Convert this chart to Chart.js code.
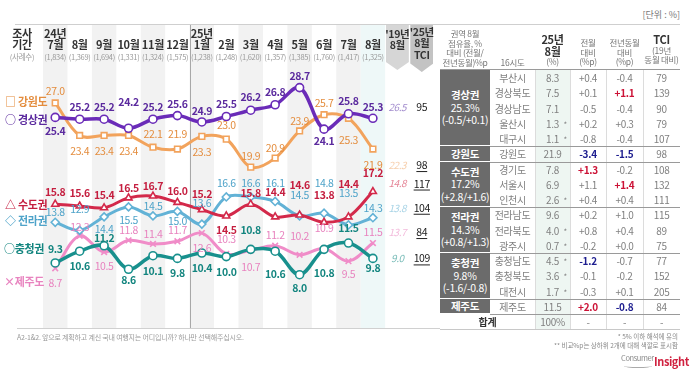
<!DOCTYPE html>
<html><head><meta charset="utf-8">
<script src="https://cdn.jsdelivr.net/npm/chart.js@4.4.1/dist/chart.umd.min.js"></script>
<style>
html,body{margin:0;padding:0;background:#fff;width:698px;height:378px;overflow:hidden;font-family:"Noto Sans CJK KR","Noto Sans",sans-serif;}
#wrap{position:relative;width:698px;height:378px;}
canvas{position:absolute;left:0;top:0;}
.a{position:absolute;white-space:nowrap;line-height:1;}
.c{transform:translateX(-50%);text-align:center;}
.mon{font-size:11px;font-weight:bold;color:#333;letter-spacing:-0.3px;}
.smp{font-size:7.5px;color:#9a9a9a;letter-spacing:-0.3px;}
.leg{font-size:11px;font-weight:bold;letter-spacing:-0.3px;}
.cell{position:absolute;display:flex;align-items:center;justify-content:center;font-size:10px;color:#808080;letter-spacing:-0.3px;box-sizing:border-box;}
.hd{position:absolute;text-align:center;font-size:8.5px;color:#777;line-height:9.5px;letter-spacing:-0.3px;}
.grp{position:absolute;background:#6b6b6b;color:#fff;text-align:center;display:flex;flex-direction:column;align-items:center;justify-content:center;font-size:10.5px;line-height:12.5px;letter-spacing:-0.3px;box-sizing:border-box;}
.ln{position:absolute;}
.rib{position:absolute;clip-path:polygon(0 0,100% 0,100% 82%,50% 100%,0 82%);}
</style></head>
<body><div id="wrap"><canvas id="c" width="440" height="378"></canvas><div id="ov"></div></div>
<script>
// ---------- data ----------
const months   = ['7월','8월','9월','10월','11월','12월','1월','2월','3월','4월','5월','6월','7월','8월'];
const years    = ['24년','','','','','','25년','','','','','','',''];
const samples  = ['(1,834)','(1,369)','(1,694)','(1,331)','(1,324)','(1,575)','(1,238)','(1,248)','(1,620)','(1,357)','(1,385)','(1,760)','(1,417)','(1,325)'];

const seriesNames = ['경상권','강원도','수도권','전라권','충청권','제주도'];
const gyeongsang = [25.4,25.2,25.2,24.2,25.2,25.6,24.9,25.5,26.2,26.8,28.7,24.1,25.8,25.3];
const gangwon    = [27.0,23.4,23.4,23.4,22.1,21.9,23.3,23.0,19.9,20.9,23.9,25.7,25.3,21.9];
const sudo       = [15.8,15.6,15.4,16.5,16.7,16.0,15.2,14.5,15.8,14.4,14.6,13.8,14.4,17.2];
const jeolla     = [13.8,12.9,14.4,15.5,14.5,15.0,13.6,16.6,16.6,16.1,14.5,14.8,13.5,14.3];
const chungcheong= [9.3,10.6,11.2,8.6,10.1,9.8,10.4,10.0,10.8,10.6,8.0,10.8,11.5,9.8];
const jeju       = [8.7,12.3,10.5,11.8,11.4,11.7,12.6,10.3,10.7,11.2,10.2,10.9,9.5,11.5];
const aug2019    = ['26.5','22.3','14.8','13.8','9.0','13.7'];
const tci2025    = ['95','98','117','104','109','84'];

// right-hand table
const groupNames  = ['경상권','강원도','수도권','전라권','충청권','제주도'];
const groupShares = ['25.3%','','17.2%','14.3%','9.8%',''];
const groupDiffs  = ['(-0.5/+0.1)','','(+2.8/+1.6)','(+0.8/+1.3)','(-1.6/-0.8)',''];
const groupSizes  = [5,1,3,3,3,1];
const provinces = ['부산시','경상북도','경상남도','울산시','대구시','강원도','경기도','서울시','인천시','전라남도','전라북도','광주시','충청남도','충청북도','대전시','제주도'];
const shareAug  = ['8.3','7.5','7.1','1.3','1.1','21.9','7.8','6.9','2.6','9.6','4.0','0.7','4.5','3.6','1.7','11.5'];
const lowBase   = [0,0,0,1,1,0,0,0,1,0,1,1,1,1,1,0];
const momDiff   = ['+0.4','+0.1','-0.5','+0.2','-0.8','-3.4','+1.3','+1.1','+0.4','+0.2','+0.8','-0.2','-1.2','-0.1','-0.3','+2.0'];
const yoyDiff   = ['-0.4','+1.1','-0.4','+0.3','-0.4','-1.5','-0.2','+1.4','+0.4','+1.0','+0.4','+0.0','-0.7','-0.2','+0.1','-0.8'];
const tciRow    = ['79','139','90','79','107','98','108','132','111','115','89','75','77','152','205','84'];

// ---------- styles ----------
const styles = [
  {color:'#6a2bb8', text:'#5b2a9e', ref:'#a28ccd', pt:'circle',  w:3.5, bold:true},
  {color:'#f2a35c', text:'#e48d3e', ref:'#f6cfae', pt:'rect',    w:3,   bold:false},
  {color:'#d3294a', text:'#c51f40', ref:'#e58597', pt:'triangle',w:3,   bold:true},
  {color:'#62b2d6', text:'#4ea3c9', ref:'#a9d4e6', pt:'rectRot', w:3,   bold:false},
  {color:'#18908d', text:'#13857f', ref:'#7bbdb9', pt:'circle',  w:3.5, bold:true},
  {color:'#f08cc8', text:'#e883bf', ref:'#f3bcdc', pt:'crossRot',w:3,   bold:false}
];
// label offsets (px, vertical) per point
const labelDy = [
  [14,-12,-12,-26,-12,-12,-11,-12,-13,-13,-12,12,-13,-11],
  [-12,16,16,16,-13,-15,16,-14,-11,-10,-10,-12,22,16],
  [-12,-13,-13,-10,-10,-11,-16,14,-11,-25,-30,-27,-33,-19],
  [-10,-21,12,13,-10,10,-21,-14,-14,-18,-21,-30,-32,-10],
  [-14,15,-8,11,15,15,15,15,-19,23,13,24,-15,10],
  [15,-9,14,-10,-10,-11,15,-15,17,-11,-19,-20,13,-11]
];
// vertical offset of the '19 / TCI side columns from each series' last point
const sideDy = [-11,16,-8,-10,0,-11];

const seriesData = [gyeongsang,gangwon,sudo,jeolla,chungcheong,jeju];

const stripes = {
  id:'stripes',
  beforeDatasetsDraw(chart){
    const {ctx, chartArea, scales:{x}} = chart;
    const top = 25, bottom = chartArea.bottom;
    ctx.save();
    months.forEach((m,i)=>{
      if(i%2===0 || i===months.length-1){
        const l = x.getPixelForValue(i-0.5), r = x.getPixelForValue(i+0.5);
        ctx.fillStyle = i===months.length-1 ? '#eef8f8' : '#f2f2f2';
        ctx.fillRect(l, top, r-l, bottom-top);
      }
    });
    const d = Math.round(x.getPixelForValue(5.5))+0.5;
    ctx.strokeStyle='#a8a8a8'; ctx.lineWidth=1;
    ctx.beginPath(); ctx.moveTo(d, top); ctx.lineTo(d, bottom); ctx.stroke();
    ctx.strokeStyle='#d0d0d0';
    ctx.beginPath(); ctx.moveTo(17, bottom+0.5); ctx.lineTo(chart.width, bottom+0.5); ctx.stroke();
    ctx.restore();
  }
};
const labels = {
  id:'labels',
  afterDatasetsDraw(chart){
    const {ctx, scales:{x}} = chart;
    ctx.save();
    ctx.textAlign='center'; ctx.textBaseline='middle';
    chart.data.datasets.forEach((ds,si)=>{
      const meta = chart.getDatasetMeta(si);
      const st = styles[si];
      ctx.font = (st.bold?'bold ':'')+'10.5px "Noto Sans CJK KR"';
      ctx.letterSpacing = '-0.4px';
      ctx.fillStyle = st.text;
      let lastY = 0;
      meta.data.forEach((p,j)=>{
        const y = p.y + labelDy[si][j];
        ctx.fillText(ds.data[j].y.toFixed(1), p.x, y);
        lastY = p.y;
      });
      const sy = lastY + sideDy[si];
      ctx.font = 'italic 10px "Noto Sans CJK KR"';
      ctx.fillStyle = st.ref;
      ctx.fillText(aug2019[si], x.getPixelForValue(14), sy);
      ctx.font = '10.5px "Noto Sans CJK KR"';
      ctx.fillStyle = '#222';
      const tx = x.getPixelForValue(15);
      ctx.fillText(tci2025[si], tx, sy);
      if(si!==0){
        const w = ctx.measureText(tci2025[si]).width;
        ctx.fillRect(tx-w/2, sy+6, w, 1);
      }
    });
    ctx.restore();
  }
};

const chart = new Chart(document.getElementById('c').getContext('2d'), {
  type:'line',
  data:{datasets: seriesData.map((vals,si)=>({
    label: seriesNames[si],
    data: vals.map((v,i)=>({x:i,y:v})),
    borderColor: styles[si].color,
    borderWidth: styles[si].w,
    pointStyle: styles[si].pt,
    pointRadius: 4,
    pointBorderWidth: 1.6,
    pointBackgroundColor:'#fff',
    pointBorderColor: styles[si].color,
    tension: 0.35,
    clip: false
  }))},
  options:{
    responsive:false, animation:false, devicePixelRatio:1,
    layout:{padding:{left:43,right:6,top:65,bottom:50}},
    plugins:{legend:{display:false}, tooltip:{enabled:false}},
    scales:{
      x:{type:'linear', min:-0.5, max:15.5, display:false},
      y:{min:2.1, max:31.2, display:false}
    }
  },
  plugins:[stripes, labels]
});

// ---------- overlay HTML ----------
const ov = document.getElementById('ov');
function add(cls, html, css){ const d=document.createElement('div'); d.className=cls; d.innerHTML=html; Object.assign(d.style, css); ov.appendChild(d); return d; }
const xs = chart.scales.x;

// top rule
add('ln','',{left:'15px',top:'24px',width:'665px',height:'1px',background:'#cfcfcf'});
// header
add('a c mon','조사',{left:'22px',top:'28px'});
add('a c mon','기간',{left:'22px',top:'39px'});
add('a c smp','(사례수)',{left:'22px',top:'53px'});
months.forEach((m,i)=>{
  const px = xs.getPixelForValue(i)+'px';
  if(years[i]) add('a c mon', years[i], {left:px, top:'28px'});
  add('a c mon', m, {left:px, top:'39px'});
  add('a c smp', samples[i], {left:px, top:'53px'});
});
// ribbons
const r1 = xs.getPixelForValue(14), r2 = xs.getPixelForValue(15);
add('rib','',{left:(r1-11.5)+'px',top:'25px',width:'23px',height:'45px',background:'#d6d6d6'});
add('rib','',{left:(r2-11.5)+'px',top:'25px',width:'23px',height:'47px',background:'#c3c3c3'});
add('a c mon','\'19년',{left:r1+'px',top:'29px',fontSize:'10.5px'});
add('a c mon','8월',{left:r1+'px',top:'40px',fontSize:'10.5px'});
add('a c mon','\'25년',{left:r2+'px',top:'27px',fontSize:'10.5px'});
add('a c mon','8월',{left:r2+'px',top:'38px',fontSize:'10.5px'});
add('a c mon','TCI',{left:r2+'px',top:'50px',fontSize:'10.5px'});

// legend
const legPos = [121,103,206,222,250,283];
const legSym = ['○ ','□ ','△ ','◇ ','○','×'];
seriesNames.forEach((n,i)=>{
  add('a leg', legSym[i]+n, {left:(i===4||i===5?'4px':'5px'), top:(legPos[i]-7)+'px', color:styles[i].text});
});

// footer
add('a','A2-1&2. 앞으로 계획하고 계신 국내 여행지는 어디입니까? 하나만 선택해주십시오.',{left:'17px',top:'334px',fontSize:'7px',color:'#9a9a9a',letterSpacing:'-0.2px'});
add('a','[단위 : %]',{right:'18px',top:'10px',fontSize:'9px',color:'#777'});
add('a','* 5% 이하 해석에 유의',{right:'20px',top:'333px',fontSize:'6.5px',color:'#888'});
add('a','** 비교%p는 상하위 2개에 대해 색깔로 표시함',{right:'20px',top:'342px',fontSize:'6.5px',color:'#888'});
add('a','Consumer',{left:'621px',top:'354px',fontSize:'7.5px',color:'#8a8a8a',letterSpacing:'-0.4px'});
add('a','Insight',{left:'654px',top:'356px',fontSize:'11px',fontWeight:'bold',color:'#d0213f',letterSpacing:'-0.4px'});
add('ln','',{left:'624px',top:'364px',width:'28px',height:'3px',borderBottom:'1px solid #aaa',borderRadius:'0 0 50% 50%'});

// table
const colX = [440,490,535,570,606,643,680];
const top0 = 70, rh = 15.25, nRows = provinces.length+1;
function hdr(c, html, top){ add('hd', html, {left:colX[c]+'px', width:(colX[c+1]-colX[c])+'px', top:top+'px'}); }
hdr(0,'권역 8월<br>점유율, %<br>대비 (전월/<br>전년동월)%p',29);
hdr(1,'16시도',58);
hdr(2,'<b style="font-size:11px;color:#333;line-height:10.5px">25년<br>8월</b><br>(%)',34);
hdr(3,'전월<br>대비<br>(%p)',38);
hdr(4,'전년동월<br>대비<br>(%p)',38);
hdr(5,'<b style="font-size:11px;color:#333">TCI</b><br>(19년<br>동월 대비)',35);
// green column
add('ln','',{left:colX[2]+'px',top:top0+'px',width:(colX[3]-colX[2])+'px',height:(rh*nRows)+'px',background:'#eef6f2'});
// vertical lines
[2,3,4,5].forEach(c=>add('ln','',{left:colX[c]+'px',top:top0+'px',width:'1px',height:(rh*nRows)+'px',background:'#dcdcdc'}));
// highlights: top2 red / bottom2 blue
function ranks(arr){ const v=arr.map(Number); const s=[...v].sort((a,b)=>b-a); return v.map(x=> x>=s[1]?'hi': x<=s[s.length-2]?'lo':''); }
const momR = ranks(momDiff), yoyR = ranks(yoyDiff);
function colored(txt, r){ return r==='hi'?`<b style="color:#cc1236">${txt}</b>`: r==='lo'?`<b style="color:#1d1d8f">${txt}</b>`:txt; }
provinces.forEach((p,r)=>{
  const t = top0 + r*rh;
  const cell = (c, html)=>add('cell', html, {left:colX[c]+'px', width:(colX[c+1]-colX[c])+'px', top:t+'px', height:rh+'px'});
  cell(1,p);
  cell(2, shareAug[r] + (lowBase[r]?'<span style="position:absolute;right:3px;top:3px;font-size:8px">*</span>':''));
  cell(3, colored(momDiff[r], momR[r]));
  cell(4, colored(yoyDiff[r], yoyR[r]));
  cell(5, tciRow[r]);
});
// total row
const tt = top0 + provinces.length*rh;
add('cell','<b style="color:#333">합계</b>',{left:colX[0]+'px',width:(colX[2]-colX[0])+'px',top:tt+'px',height:rh+'px'});
add('cell','100%',{left:colX[2]+'px',width:(colX[3]-colX[2])+'px',top:tt+'px',height:rh+'px'});
[3,4,5].forEach(c=>add('cell','-',{left:colX[c]+'px',width:(colX[c+1]-colX[c])+'px',top:tt+'px',height:rh+'px'}));
// groups
let rr = 0;
groupNames.forEach((g,i)=>{
  const t = top0 + rr*rh, h = groupSizes[i]*rh;
  let html = `<b>${g}</b>`;
  if(groupShares[i]) html += `<span>${groupShares[i]}</span><span>${groupDiffs[i]}</span>`;
  add('grp', html, {left:colX[0]+'px', width:(colX[1]-colX[0])+'px', top:t+'px', height:h+'px'});
  rr += groupSizes[i];
  const by = top0 + rr*rh;
  add('ln','',{left:colX[0]+'px',top:(by-1)+'px',width:(colX[1]-colX[0])+'px',height:'2px',background:'#fff'});
  add('ln','',{left:colX[1]+'px',top:by+'px',width:(colX[6]-colX[1])+'px',height:'1px',background:'#9a9a9a'});
});
add('ln','',{left:colX[0]+'px',top:(top0-1)+'px',width:(colX[6]-colX[0])+'px',height:'1px',background:'#9a9a9a'});
add('ln','',{left:colX[0]+'px',top:(tt+rh)+'px',width:(colX[6]-colX[0])+'px',height:'1px',background:'#c8c8c8'});
</script>
</body></html>
